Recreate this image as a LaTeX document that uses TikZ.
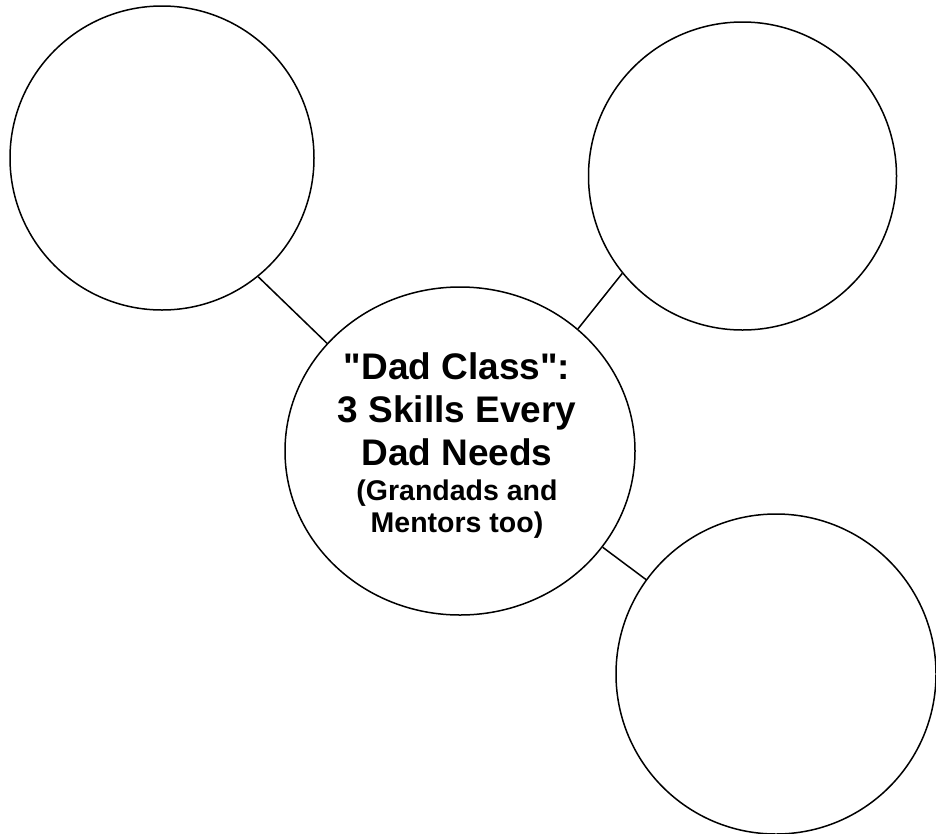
\documentclass[tikz,border=0pt]{standalone}
\usepackage{fontspec}
\setmainfont{Liberation Sans}[Ligatures=TeXOff]
\usetikzlibrary{shapes.geometric}
\begin{document}
\begin{tikzpicture}[x=1pt,y=-1pt,
  bubble/.style={circle, draw=black, line width=1.5pt, inner sep=0pt},
  hub/.style={ellipse, draw=black, line width=1.5pt, inner sep=0pt},
  link/.style={draw=black, line width=1.5pt},
  hubtext/.style={align=center, inner sep=0pt, font=\fontsize{37}{43}\selectfont\bfseries}]
\useasboundingbox (0,0) rectangle (936,833);
\node[bubble, minimum size=304pt] (tl) at (162,158) {};
\node[bubble, minimum size=308pt] (tr) at (742.5,176) {};
\node[bubble, minimum size=320pt] (br) at (776,674) {};
\node[hub, minimum width=350pt, minimum height=328pt] (c) at (460,451) {};
\node[hubtext] (t) at (457,446)
  {"Dad Class":\\3 Skills Every\\Dad Needs\\[-8pt]
   {\fontsize{28.5}{32}\selectfont (Grandads and}\\[-11pt]
   {\fontsize{28.5}{32}\selectfont Mentors too)}};
\draw[link] (tl.-51) -- (c.141);
\draw[link] (tr.219.4) -- (c.46.7);
\draw[link] (c.-34.2) -- (br.144.5);
\end{tikzpicture}
\end{document}
